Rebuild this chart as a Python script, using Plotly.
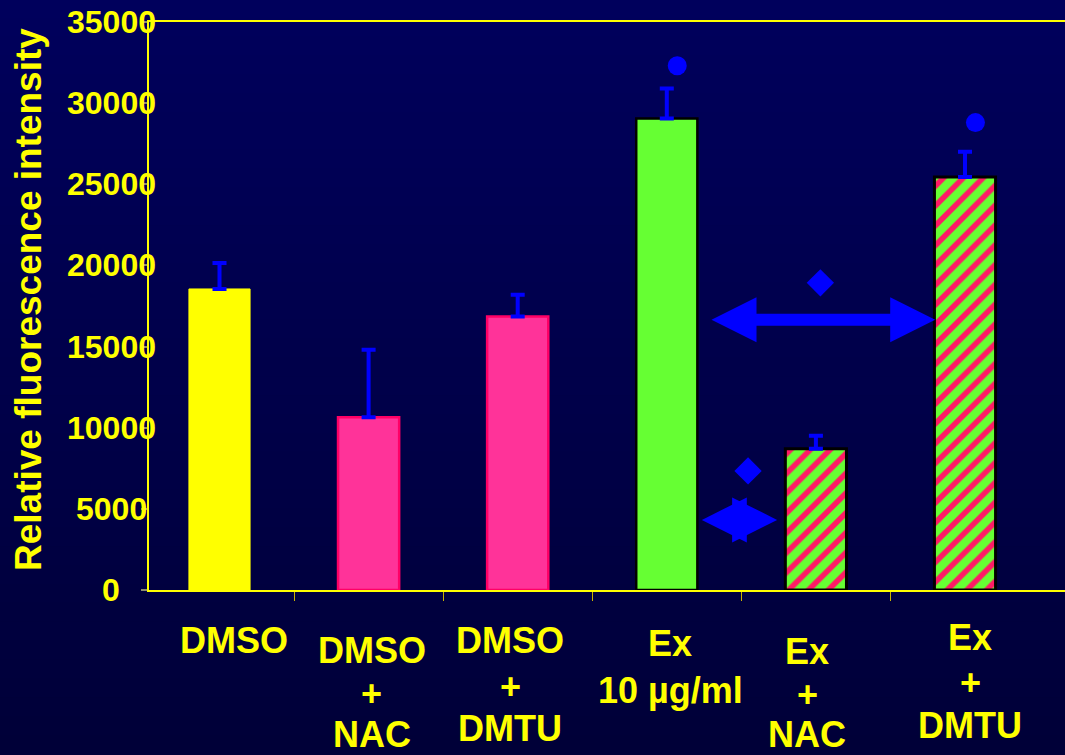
import plotly.graph_objects as go

# ---------------- data ----------------
categories = ["DMSO", "DMSO + NAC", "DMSO + DMTU", "Ex 10 µg/ml", "Ex + NAC", "Ex + DMTU"]
label_lines = [["DMSO"], ["DMSO", "+", "NAC"], ["DMSO", "+", "DMTU"],
               ["Ex", "10 µg/ml"], ["Ex", "+", "NAC"], ["Ex", "+", "DMTU"]]
values = [18550, 10650, 16850, 29050, 8700, 25450]
errors = [1600, 4150, 1350, 1850, 800, 1550]
striped = [False, False, False, False, True, True]
y_ticks = [0, 5000, 10000, 15000, 20000, 25000, 30000, 35000]
y_tick_text = ["0", "5000", "10000", "15000", "20000", "25000", "30000", "35000"]

circle_x = [3.07, 5.07]
circle_y = [32300, 28800]
diamond_x = [4.03, 3.545]
diamond_y = [18930, 7340]
arrow_y = [16650, 4320]
arrow_x0 = [3.30, 3.235]
arrow_x1 = [4.80, 3.74]

# ---------------- styles ----------------
YELLOW = "#ffff00"
PINK = "#ff3399"
GREEN = "#66ff33"
STRIPE = "#ff1a66"
BLUE = "#0000ff"
FONT = "Liberation Sans, Arial, sans-serif"

W, H = 1065, 755
L, R, T, B = 149, 0, 22, 165
PW, PH = W - L - R, H - T - B

def px_x(p):
    return (p - L) / PW

def px_y(p):
    return (H - B - p) / PH

x_idx = list(range(len(categories)))
bar_colors = [YELLOW, PINK, PINK, GREEN, GREEN, GREEN]
line_colors = [YELLOW, "#ff0066", "#ff0066", "#000000", "#000000", "#000000"]
line_widths = [1, 2.5, 2.5, 2.5, 3, 3]

solid_i = [i for i in x_idx if not striped[i]]
stripe_i = [i for i in x_idx if striped[i]]

fig = go.Figure()

fig.add_trace(go.Bar(
    x=solid_i, y=[values[i] for i in solid_i], width=0.41,
    marker=dict(color=[bar_colors[i] for i in solid_i],
                line=dict(color=[line_colors[i] for i in solid_i],
                          width=[line_widths[i] for i in solid_i])),
    error_y=dict(type="data", symmetric=False, array=[errors[i] for i in solid_i],
                 arrayminus=[0] * len(solid_i), color=BLUE, thickness=4, width=7),
    showlegend=False, hoverinfo="skip",
))
fig.add_trace(go.Bar(
    x=stripe_i, y=[values[i] for i in stripe_i], width=0.41,
    marker=dict(color=GREEN, line=dict(color="#000000", width=3),
                pattern=dict(shape="/", fgcolor=STRIPE, bgcolor=GREEN, fgopacity=1,
                             size=14, solidity=0.4, fillmode="replace")),
    error_y=dict(type="data", symmetric=False, array=[errors[i] for i in stripe_i],
                 arrayminus=[0] * len(stripe_i), color=BLUE, thickness=4, width=7),
    showlegend=False, hoverinfo="skip",
))

# arrows: shafts and heads
head_len = 45 / 149.1
for y, x0, x1 in zip(arrow_y, arrow_x0, arrow_x1):
    if x1 - x0 > 2 * head_len:
        fig.add_trace(go.Scatter(x=[x0 + head_len * 0.95, x1 - head_len * 0.95], y=[y, y],
                                 mode="lines", line=dict(color=BLUE, width=12),
                                 showlegend=False, hoverinfo="skip"))
    fig.add_trace(go.Scatter(x=[x0, x1], y=[y, y], mode="markers",
                             marker=dict(symbol=["arrow-left", "arrow-right"], size=45,
                                         color=BLUE, line=dict(width=0)),
                             showlegend=False, hoverinfo="skip"))

fig.add_trace(go.Scatter(x=diamond_x, y=diamond_y, mode="markers",
                         marker=dict(symbol="diamond", size=21, color=BLUE, line=dict(width=0)),
                         showlegend=False, hoverinfo="skip"))
fig.add_trace(go.Scatter(x=circle_x, y=circle_y, mode="markers",
                         marker=dict(symbol="circle", size=19, color=BLUE, line=dict(width=0)),
                         showlegend=False, hoverinfo="skip"))

# background gradient
shapes = []
n = 40
top = (0, 0, 92)
bot = (0, 0, 56)
y_top, y_bot = px_y(0), px_y(H)
for i in range(n):
    f = i / (n - 1)
    c = tuple(round(top[k] + (bot[k] - top[k]) * f) for k in range(3))
    ya = y_top + (y_bot - y_top) * i / n
    yb = y_top + (y_bot - y_top) * (i + 1) / n
    shapes.append(dict(type="rect", xref="paper", yref="paper", x0=-0.3, x1=1.2,
                       y0=yb - 0.002, y1=ya + 0.002, fillcolor="rgb(%d,%d,%d)" % c,
                       line=dict(width=0), layer="below"))

annotations = []
# y tick labels (centered)
for v, t in zip(y_ticks, y_tick_text):
    annotations.append(dict(x=px_x(111), xref="paper", y=v, yref="y", text=t,
                            showarrow=False, xanchor="center", yanchor="middle",
                            font=dict(family=FONT, size=32, color=YELLOW, weight="bold")))

# y axis title
annotations.append(dict(x=px_x(28), xref="paper", y=px_y(300), yref="paper",
                        text="Relative fluorescence intensity", textangle=-90,
                        showarrow=False, xanchor="center", yanchor="middle",
                        font=dict(family=FONT, size=37, color=YELLOW, weight="bold")))

# x category labels, line by line
label_pos = [(234, [640]), (371.5, [650, 693, 734]), (510, [640, 686, 728]),
             (670, [643, 690]), (807, [651, 694, 734]), (970, [637, 682, 725])]
for lines, (xp, ys) in zip(label_lines, label_pos):
    for txt, yp in zip(lines, ys):
        annotations.append(dict(x=px_x(xp), xref="paper", y=px_y(yp), yref="paper",
                                text=txt, showarrow=False, xanchor="center", yanchor="middle",
                                font=dict(family=FONT, size=36, color=YELLOW, weight="bold")))

r0 = -(219.5 - L) / 149.1
r1 = r0 + PW / 149.1

fig.update_layout(
    width=W, height=H,
    margin=dict(l=L, r=R, t=T, b=B, pad=0),
    paper_bgcolor="#00004a",
    plot_bgcolor="rgba(0,0,0,0)",
    barmode="overlay",
    shapes=shapes,
    annotations=annotations,
    xaxis=dict(range=[r0, r1], showgrid=False, zeroline=False,
               showline=True, linecolor=YELLOW, linewidth=2, mirror=True,
               tickvals=[0.5, 1.5, 2.5, 3.5, 4.5], ticks="outside", ticklen=9,
               tickcolor="#c8b400", tickwidth=1, showticklabels=False),
    yaxis=dict(range=[0, 35000], showgrid=False, zeroline=False,
               showline=True, linecolor=YELLOW, linewidth=2,
               tickvals=y_ticks, ticks="outside", ticklen=6, tickcolor="#8c8c6e",
               tickwidth=2, showticklabels=False),
)

fig.write_html("out.html", config={"displayModeBar": False},
               post_script="document.body.style.margin='0px';document.body.style.overflow='hidden';")
